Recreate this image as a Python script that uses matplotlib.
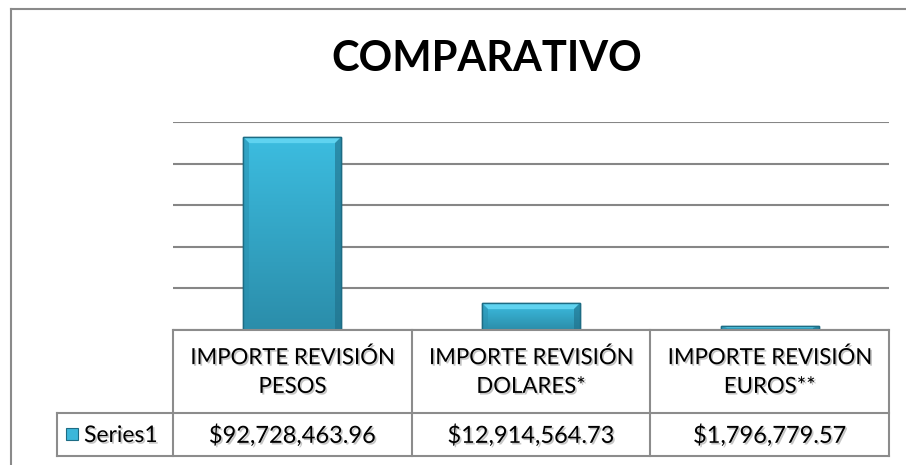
import matplotlib
matplotlib.use("Agg")
import matplotlib.pyplot as plt
import matplotlib.patheffects as pe
from matplotlib.transforms import blended_transform_factory
from matplotlib.patches import Rectangle, Polygon
from matplotlib.colors import LinearSegmentedColormap
import numpy as np

title = "COMPARATIVO"
categories = ["IMPORTE REVISIÓN\nPESOS", "IMPORTE REVISIÓN\nDOLARES*", "IMPORTE REVISIÓN\nEUROS**"]
series_name = "Series1"
values = [92728463.96, 12914564.73, 1796779.57]

W, H = 906, 465
fig = plt.figure(figsize=(W / 100, H / 100), dpi=100)
fig.patch.set_facecolor("white")

def fx(x):
    return x / W

def fy(y):
    return 1 - y / H

FONT = "Lato"
shadow = [pe.SimplePatchShadow(offset=(1.2, -1.2), shadow_rgbFace="#7f7f7f", alpha=0.45), pe.Normal()]

# outer chart frame (cut off on right and bottom)
fig.add_artist(plt.Line2D([fx(11), fx(11)], [fy(9), 0], color="#8a8a8a", lw=1.5, transform=fig.transFigure))
fig.add_artist(plt.Line2D([fx(11), 1], [fy(9), fy(9)], color="#8a8a8a", lw=1.5, transform=fig.transFigure))

# plot area
x0, x1 = 173, 889
ybase, ytop = 330, 122
ax = fig.add_axes([fx(x0), fy(ybase), fx(x1) - fx(x0), (ybase - ytop) / H])
ax.set_xlim(-0.5, len(values) - 0.5)
ax.set_ylim(0, 100e6)
ax.set_yticks(np.arange(0, 100e6 + 1, 20e6))
ax.yaxis.grid(True, color="#868686", lw=1.5)
ax.set_axisbelow(True)
for s in ax.spines.values():
    s.set_visible(False)
ax.tick_params(left=False, bottom=False, labelleft=False, labelbottom=False)
ax.set_facecolor("none")

bw = 0.41
xs = np.arange(len(values))
bars = ax.bar(xs, values, width=bw, color="#37b3d6", edgecolor="#1d6c84", lw=1.0, zorder=3)

# gradient fill + bevel
grad = np.linspace(0, 1, 256).reshape(-1, 1)
cmap = LinearSegmentedColormap.from_list("b", ["#2b8daa", "#3cbde0"])
for b in bars:
    bx, by, bwid, bh = b.get_x(), b.get_y(), b.get_width(), b.get_height()
    im = ax.imshow(grad, extent=[bx, bx + bwid, by, by + bh], origin="lower", cmap=cmap,
                   aspect="auto", zorder=3.5)
    im.set_clip_path(b)
    px = 6
    dx = px * (ax.get_xlim()[1] - ax.get_xlim()[0]) / (x1 - x0)
    dy = px * (ax.get_ylim()[1] - ax.get_ylim()[0]) / (ybase - ytop)
    d_y = min(dy, bh / 2.5)
    d_x = min(dx, bwid / 4)
    top = by + bh
    ax.add_patch(Polygon([[bx, top], [bx + bwid, top], [bx + bwid - d_x, top - d_y], [bx + d_x, top - d_y]],
                         closed=True, facecolor="#5fd3f0", edgecolor="none", zorder=3.6))
    ax.add_patch(Polygon([[bx + bwid, top], [bx + bwid, by], [bx + bwid - d_x, by], [bx + bwid - d_x, top - d_y]],
                         closed=True, facecolor="#1f6e88", edgecolor="none", alpha=0.6, zorder=3.6))
    ax.add_patch(Polygon([[bx, top], [bx, by], [bx + d_x, by], [bx + d_x, top - d_y]],
                         closed=True, facecolor="#2a8fae", edgecolor="none", alpha=0.5, zorder=3.6))
    ax.add_patch(Rectangle((bx, by), bwid, bh, facecolor="none", edgecolor="#1d6c84", lw=1.0, zorder=3.7))

# title
fig.text(fx(487), fy(59), title, ha="center", va="center", fontsize=30, fontweight="bold",
         family=FONT, color="black")

# data table
tr = blended_transform_factory(ax.transData, fig.transFigure)
lc = "#8c8c8c"
ytab_top, ysep, ybot = 330, 413, 456
edges = [-0.5, 0.5, 1.5, 2.5]
for e in edges:
    fig.add_artist(plt.Line2D([e, e], [fy(ytab_top), fy(ybot)], color=lc, lw=1.5, transform=tr))
fig.add_artist(plt.Line2D([edges[0], edges[-1]], [fy(ytab_top), fy(ytab_top)], color=lc, lw=1.5, transform=tr))
fig.add_artist(plt.Line2D([fx(57), fx(x1)], [fy(ysep), fy(ysep)], color=lc, lw=1.5, transform=fig.transFigure))
fig.add_artist(plt.Line2D([fx(57), fx(x1)], [fy(ybot), fy(ybot)], color=lc, lw=1.5, transform=fig.transFigure))
fig.add_artist(plt.Line2D([fx(57), fx(57)], [fy(ysep), fy(ybot)], color=lc, lw=1.5, transform=fig.transFigure))

for i, (c, v) in enumerate(zip(categories, values)):
    fig.text(xs[i], fy((ytab_top + ysep) / 2 + 1), c, transform=tr, ha="center", va="center",
             fontsize=16, family=FONT, linespacing=1.55, path_effects=shadow)
    fig.text(xs[i], fy((ysep + ybot) / 2 + 1), "${:,.2f}".format(v), transform=tr, ha="center",
             va="center", fontsize=17, family=FONT, path_effects=shadow)

# legend key
fig.add_artist(Rectangle((fx(66), fy(440)), fx(12), 12 / H, transform=fig.transFigure,
                         facecolor="#3cb7da", edgecolor="#1d6c84", lw=0.8))
fig.text(fx(84), fy((ysep + ybot) / 2 + 1), series_name, ha="left", va="center", fontsize=16.5,
         family=FONT, path_effects=shadow)

fig.savefig("out.png", dpi=100)
